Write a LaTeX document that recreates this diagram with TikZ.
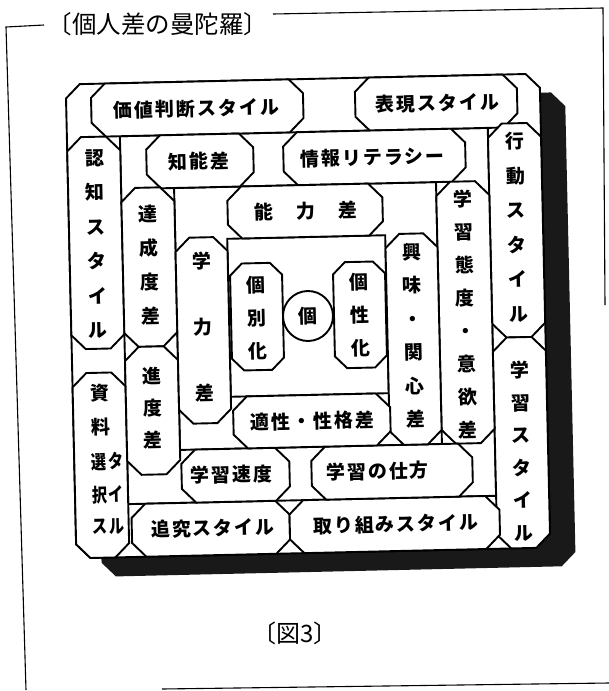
\documentclass[tikz,border=0pt]{standalone}
\usepackage{fontspec}
\usepackage{graphicx}
\newfontfamily\jp{Noto Sans CJK JP}
\newfontfamily\jpb{Noto Sans CJK JP}[LetterSpace=10]
% chamfered box: x1 y1 x2 y2 chamfer
\newcommand\cbx[5]{\filldraw[boxl] ({#1+#5},#2) -- ({#3-#5},#2) -- (#3,{#2+#5}) -- (#3,{#4-#5}) -- ({#3-#5},#4) -- ({#1+#5},#4) -- (#1,{#4-#5}) -- (#1,{#2+#5}) -- cycle;}
% chamfered square path: half side, chamfer
\newcommand\csq[2]{({-#1+#2},-#1) -- ({#1-#2},-#1) -- (#1,{-#1+#2}) -- (#1,{#1-#2}) -- ({#1-#2},#1) -- ({-#1+#2},#1) -- (-#1,{#1-#2}) -- (-#1,{-#1+#2}) -- cycle}
\tikzset{
  ringl/.style={draw=black, line width=1.9pt},
  boxl/.style={draw=black, fill=white, line width=1.9pt, line join=miter},
  lab/.style={font=\jpb\bfseries\fontsize{19}{21}\selectfont, inner sep=0pt},
  vlab/.style={font=\jpb\bfseries\fontsize{19}{#1}\selectfont, align=center, inner sep=0pt},
  framel/.style={draw=black, line width=1.1pt},
  shadowc/.style={fill=black!90},
}
\begin{document}
\begin{tikzpicture}[x=1pt,y=-1pt]
\useasboundingbox (0,0) rectangle (609,691);
% page frame
\draw[framel] (44,25) -- (6,27) -- (26,690);
\draw[framel] (273,14) -- (603,8) -- (605,305);
\draw[framel] (162,689) -- (609,683);
\node[font=\jp\fontsize{24.5}{26}\selectfont, inner sep=0pt] (title) at (158,24) {〔個人差の曼陀羅〕};
\node[font=\jp\fontsize{24}{26}\selectfont, inner sep=0pt] (fig) at (295,633) {〔図3〕};

\begin{scope}[shift={(308,316)}, rotate=1.3, transform shape]
  % shadow
  \fill[shadowc, shift={(25,19)}] \csq{237}{14};
  % outer square
  \filldraw[boxl] \csq{237}{14};
  % ring squares
  \draw[ringl] (-184,-184) rectangle (184,184);
  \draw[ringl] (-131,-131) rectangle (131,131);
  \draw[ringl] (-79,-79) rectangle (79,79);

  % ring 1 boxes
  \cbx{-212}{-237}{0}{-184}{14}
  \cbx{52}{-237}{214}{-184}{14}
  \cbx{184}{-188}{237}{26}{14}
  \cbx{184}{26}{237}{237}{14}
  \cbx{-181}{184}{-23}{237}{14}
  \cbx{-23}{184}{187}{237}{14}
  \cbx{-237}{-184}{-184}{28}{14}
  \cbx{-237}{52}{-184}{237}{14}

  % ring 2 boxes
  \cbx{-158}{-184}{-51}{-131}{14}
  \cbx{-21}{-184}{161}{-131}{14}
  \cbx{131}{-131}{184}{131}{14}
  \cbx{-130}{131}{-22}{184}{14}
  \cbx{0}{131}{161}{184}{14}
  \cbx{-184}{-132}{-131}{27}{14}
  \cbx{-184}{27}{-131}{155}{14}

  % ring 3 boxes
  \cbx{-78}{-131}{77}{-79}{14}
  \cbx{79}{-80}{131}{131}{14}
  \cbx{-77}{79}{80}{131}{14}
  \cbx{-131}{-81}{-79}{105}{14}

  % centre
  \cbx{-77}{-54}{-25}{53}{12}
  \cbx{26}{-53}{78}{53}{12}
  \filldraw[boxl] (0,0) circle (25);

  % labels ring 1
  \node[lab] (kachi) at (-107,-210) {価値判断スタイル};
  \node[lab] (hyogen) at (134,-210) {表現スタイル};
  \node[vlab=34.5] (kodo) at (210.5,-84) {行\\動\\ス\\タ\\イ\\ル};
  \node[vlab=32.5] (gakushus) at (210.5,140) {学\\習\\ス\\タ\\イ\\ル};
  \node[lab] (tsuikyu) at (-100,210) {追究スタイル};
  \node[lab] (torikumi) at (83,210) {取り組みスタイル};
  \node[vlab=34.5] (ninchi) at (-210,-77) {認\\知\\ス\\タ\\イ\\ル};
  \node[lab] (shiryoA) at (-210,72) {資};
  \node[lab] (shiryoB) at (-210,106) {料};
  \node[lab] (shiryoC) at (-204,141) {\scalebox{0.8}[1]{選タ}};
  \node[lab] (shiryoD) at (-204,174) {\scalebox{0.8}[1]{択イ}};
  \node[lab] (shiryoE) at (-204,206) {\scalebox{0.8}[1]{スル}};

  % labels ring 2
  \node[lab] (chino) at (-106,-157) {知能差};
  \node[lab] (joho) at (68,-157) {情報リテラシー};
  \node[vlab=33] (taido) at (157.5,2) {学\\習\\態\\度\\・\\意\\欲\\差};
  \node[lab] (sokudo) at (-80,157) {学習速度};
  \node[lab] (shikata) at (66,157) {学習の仕方};
  \node[vlab=34] (tassei) at (-157.5,-55) {達\\成\\度\\差};
  \node[vlab=32] (shindo) at (-157.5,89) {進\\度\\差};

  % labels ring 3
  \node[lab] (noryoku) at (0,-105) {能　力　差};
  \node[vlab=33.5] (kyomi) at (105,22) {興\\味\\・\\関\\心\\差};
  \node[lab] (tekisei) at (2,105) {適性・性格差};
  \node[vlab=66] (gakuryoku) at (-105,9) {学\\力\\差};

  % centre labels
  \node[vlab=33] (kobetsu) at (-51,1) {個\\別\\化};
  \node[vlab=33] (kosei) at (52,0) {個\\性\\化};
  \node[lab] (ko) at (0,0) {個};
\end{scope}
\end{tikzpicture}
\end{document}
